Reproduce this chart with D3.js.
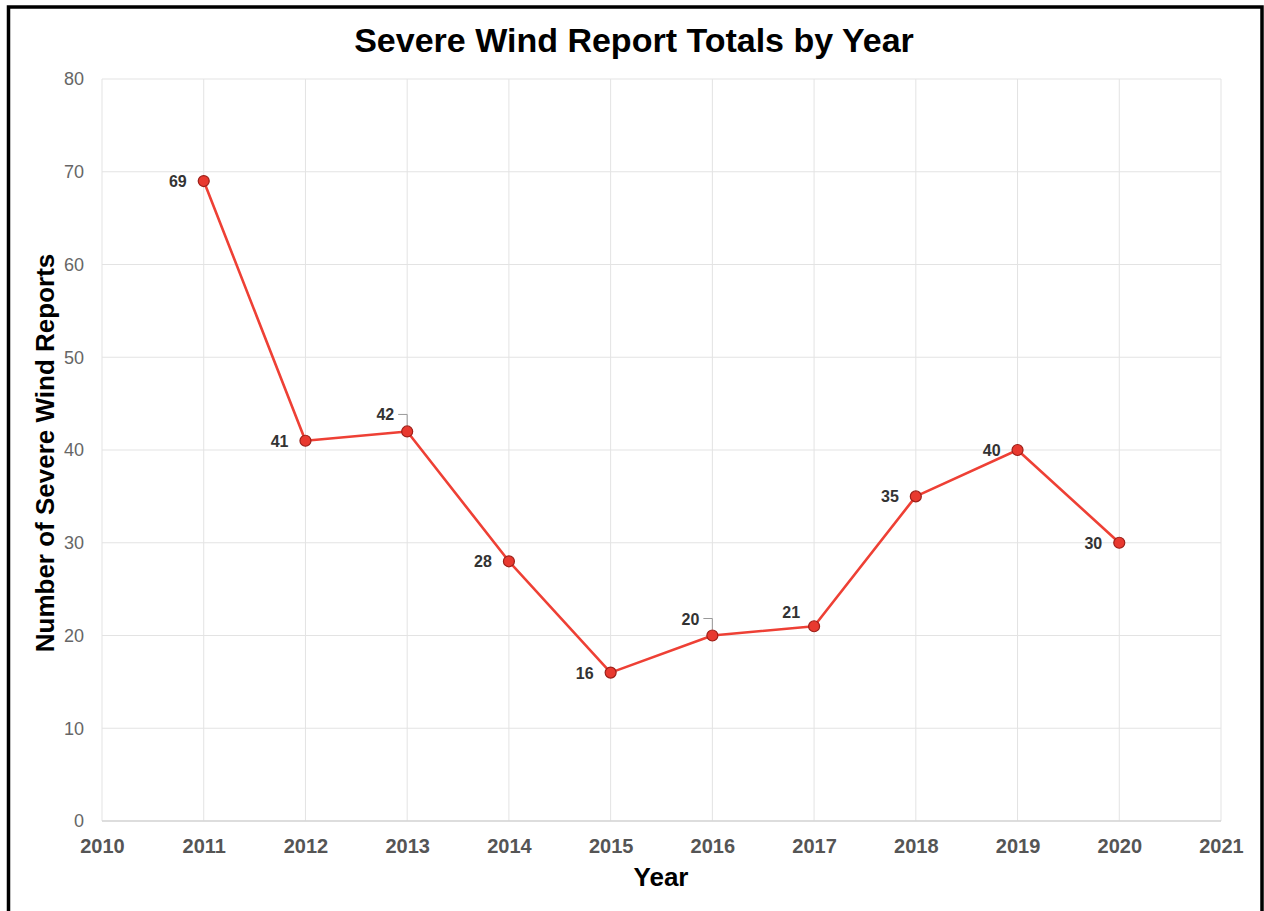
<!DOCTYPE html>
<html>
<head>
<meta charset="utf-8">
<script src="https://cdn.jsdelivr.net/npm/d3@7"></script>
<style>
  html, body { margin: 0; padding: 0; background: #fff; }
  svg { display: block; font-family: "Liberation Sans", Arial, sans-serif; }
</style>
</head>
<body>
<svg id="chart" width="1264" height="911"></svg>
<script>
const years = [2011, 2012, 2013, 2014, 2015, 2016, 2017, 2018, 2019, 2020];
const reports = [69, 41, 42, 28, 16, 20, 21, 35, 40, 30];
const xTicks = [2010, 2011, 2012, 2013, 2014, 2015, 2016, 2017, 2018, 2019, 2020, 2021];
const yTicks = [0, 10, 20, 30, 40, 50, 60, 70, 80];
// label placement: "left" or "leader" (above-left with leader line) or "aboveLeft"
const labelPlacement = ["left", "left", "leader", "left", "left", "leader", "aboveLeft", "left", "left", "left"];

const svg = d3.select("#chart");
const m = { left: 102, right: 1221, top: 79, bottom: 821 };

// outer frame
svg.append("rect").attr("x", 8.5).attr("y", 7).attr("width", 1253.5).attr("height", 930)
  .attr("fill", "none").attr("stroke", "#000").attr("stroke-width", 3.5);

const x = d3.scaleLinear().domain([2010, 2021]).range([m.left, m.right]);
const y = d3.scaleLinear().domain([0, 80]).range([m.bottom, m.top]);

// grid
const grid = svg.append("g");
grid.selectAll("line.v").data(xTicks).join("line")
  .attr("x1", d => x(d)).attr("x2", d => x(d)).attr("y1", m.top).attr("y2", m.bottom)
  .attr("stroke", "#e3e3e3").attr("stroke-width", 1);
grid.selectAll("line.h").data(yTicks).join("line")
  .attr("x1", m.left).attr("x2", m.right).attr("y1", d => y(d)).attr("y2", d => y(d))
  .attr("stroke", "#e3e3e3").attr("stroke-width", 1);
grid.append("line").attr("x1", m.left).attr("x2", m.right).attr("y1", m.bottom).attr("y2", m.bottom)
  .attr("stroke", "#d6d6d6").attr("stroke-width", 1.5);

// axes via d3
const yAxis = svg.append("g").attr("transform", `translate(${m.left},0)`)
  .call(d3.axisLeft(y).tickValues(yTicks).tickSize(0).tickPadding(18));
yAxis.select(".domain").remove();
yAxis.selectAll("text").attr("fill", "#666").attr("font-size", 18)
  .attr("font-family", "Liberation Sans, Arial, sans-serif");

const xAxis = svg.append("g").attr("transform", `translate(0,${m.bottom})`)
  .call(d3.axisBottom(x).tickValues(xTicks).tickFormat(d3.format("d")).tickSize(0).tickPadding(18));
xAxis.select(".domain").remove();
xAxis.selectAll("text").attr("fill", "#555").attr("font-size", 20).attr("font-weight", "bold")
  .attr("font-family", "Liberation Sans, Arial, sans-serif");

// title
svg.append("text").attr("x", 634).attr("y", 52).attr("text-anchor", "middle")
  .attr("font-size", 34).attr("font-weight", "bold").attr("fill", "#000")
  .text("Severe Wind Report Totals by Year");

// axis titles
svg.append("text").attr("x", 661).attr("y", 886).attr("text-anchor", "middle")
  .attr("font-size", 26).attr("font-weight", "bold").attr("fill", "#000").text("Year");
svg.append("text").attr("transform", `translate(54,453) rotate(-90)`)
  .attr("text-anchor", "middle").attr("font-size", 26).attr("font-weight", "bold").attr("fill", "#000")
  .text("Number of Severe Wind Reports");

const data = years.map((yr, i) => ({ yr, v: reports[i], p: labelPlacement[i] }));

// line
svg.append("path").datum(data)
  .attr("d", d3.line().x(d => x(d.yr)).y(d => y(d.v)))
  .attr("fill", "none").attr("stroke", "#ee4035").attr("stroke-width", 2.6)
  .attr("stroke-linejoin", "round");

// leader lines
data.filter(d => d.p === "leader").forEach(d => {
  const px = x(d.yr), py = y(d.v);
  svg.append("path")
    .attr("d", `M${px - 9},${py - 17} H${px} V${py - 6}`)
    .attr("fill", "none").attr("stroke", "#999").attr("stroke-width", 1);
});

// points
svg.selectAll("circle.pt").data(data).join("circle")
  .attr("cx", d => x(d.yr)).attr("cy", d => y(d.v)).attr("r", 5.5)
  .attr("fill", "#e8392f").attr("stroke", "#9c1f18").attr("stroke-width", 1.2);

// labels
svg.selectAll("text.lbl").data(data).join("text")
  .attr("x", d => x(d.yr) - (d.p === "left" ? 17 : d.p === "leader" ? 13 : 14))
  .attr("y", d => y(d.v) + (d.p === "left" ? 6 : d.p === "leader" ? -11 : -8))
  .attr("text-anchor", "end").attr("font-size", 16).attr("font-weight", "bold").attr("fill", "#333")
  .text(d => d.v);
</script>
</body>
</html>
